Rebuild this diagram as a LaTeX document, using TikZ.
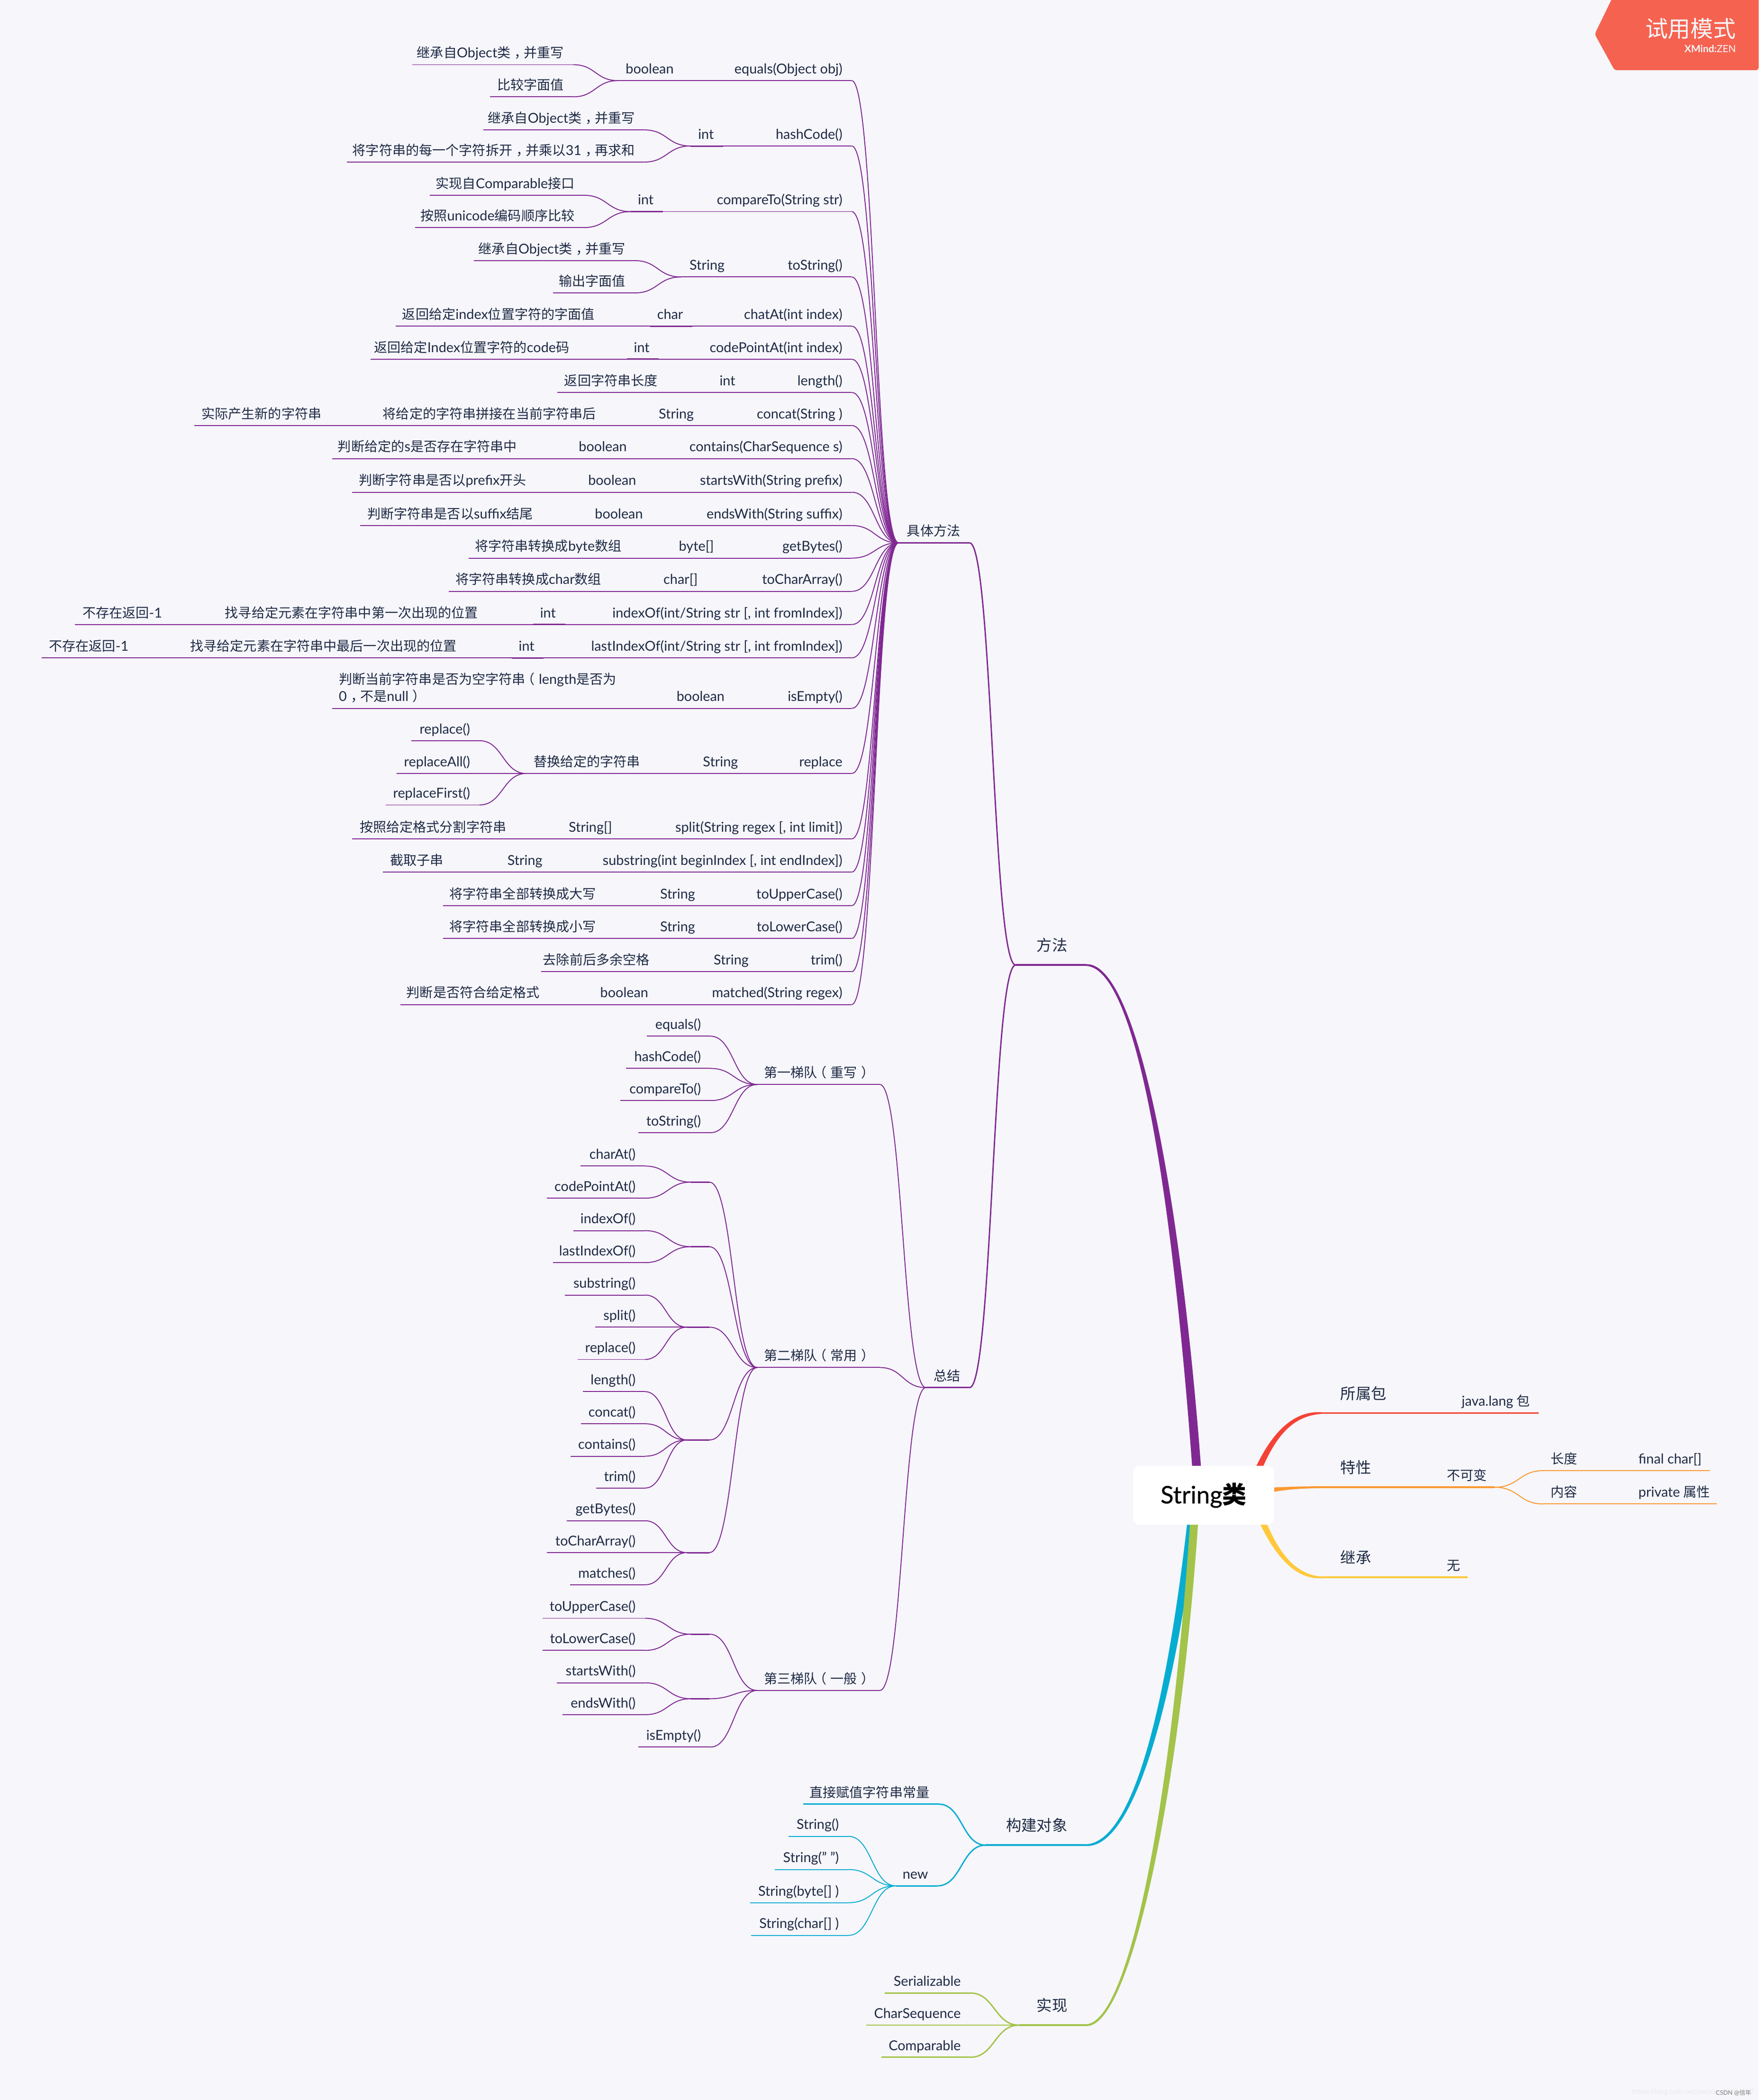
\documentclass[tikz,border=0pt]{standalone}
\usepackage{fontspec}
\setmainfont{Lato}[Scale=1.025]
\newfontfamily\cjk{Noto Sans CJK SC}
\newfontfamily\rootfont[FakeBold=0.5]{Lato}
\newcommand{\zh}[1]{{\cjk #1}}
% full-width marks sit in the middle of their cell
\newcommand{\zc}{\kern.3em，\kern-.3em}
\newcommand{\zl}{\kern-.3em（\kern.3em}
\newcommand{\zr}{\kern.3em）\kern-.3em}
\usetikzlibrary{calc}
\definecolor{bgcol}{RGB}{246, 246, 251}
\definecolor{ink}{RGB}{30, 42, 68}
\definecolor{colM}{RGB}{128, 40, 146}
\definecolor{colR}{RGB}{244, 67, 54}
\definecolor{colO}{RGB}{251, 152, 47}
\definecolor{colY}{RGB}{255, 201, 58}
\definecolor{colC}{RGB}{6, 173, 209}
\definecolor{colG}{RGB}{163, 195, 74}
\definecolor{colB}{RGB}{245, 99, 80}
\colorlet{cur}{colM}
\tikzset{
    pad/.store in=\padx,
    under/.style={append after command={(\tikzlastnode.south west) edge[draw=cur, line width=#1] (\tikzlastnode.south east)}},
    leaf/.style={inner xsep=0pt, outer sep=0pt, inner ysep=2.2pt, text depth=2pt, text=ink, pad=5.6pt,
        font=\fontsize{8}{10.4}\selectfont, under=0.55pt},
    mid/.style={leaf, under=0.8pt},
    main/.style={inner xsep=0pt, outer sep=0pt, inner ysep=6pt, text depth=2.4pt, text=ink, pad=11.2pt,
        font=\fontsize{9.2}{11}\selectfont, under=1.1pt},
    wire/.style={draw=cur, line width=0.55pt}
}
% topic going left: name, left end, right end, line height, text
\newcommand{\topic}[6][leaf]{%
    \pgfmathsetlengthmacro\tw{(#4-#3)*0.02826cm}%
    \node[#1, anchor=south east] (#2) at (#4,#5) {\makebox[\tw][r]{#6\hspace*{\padx}}};}
% topic going right
\newcommand{\topicr}[6][leaf]{%
    \pgfmathsetlengthmacro\tw{(#4-#3)*0.02826cm}%
    \node[#1, anchor=south west] (#2) at (#3,#5) {\makebox[\tw][l]{\hspace*{\padx}#6}};}
\newcommand{\link}[3][wire]{\draw[#1] let \p1=(#2.south west), \p2=(#3.south east) in
    (\p1) .. controls ({0.5*\x1+0.5*\x2},\y1) and ({0.5*\x1+0.5*\x2},\y2) .. (\p2);}
\newcommand{\linkr}[3][wire]{\draw[#1] let \p1=(#2.south east), \p2=(#3.south west) in
    (\p1) .. controls ({0.5*\x1+0.5*\x2},\y1) and ({0.5*\x1+0.5*\x2},\y2) .. (\p2);}
% tapered branch out of the centre
\newcommand{\branch}[7]{\fill[#1] ($(#2)+(0,{-0.25*#7})$) .. controls ($(#3)+(0,-#7)$) and ($(#4)+(#6,0)$) .. ($(#5)+(#6,0)$)
    -- ($(#5)+(-#6,0)$) .. controls ($(#4)+(-#6,0)$) and ($(#3)+(0,#7)$) .. ($(#2)+(0,{0.25*#7})$) -- cycle;}

\begin{document}
\begin{tikzpicture}[x=0.02826cm, y=-0.02826cm]
    \useasboundingbox (0,0) rectangle (1313.2,1567.9);
    \fill[bgcol] (0,0) rectangle (1313.2,1567.9);

    % trial badge
    \fill[colB, rounded corners=1.5pt] (1205.6,-5) -- (1190.8,25.5) -- (1205.6,52.4) -- (1313.2,52.4) -- (1313.2,-5) -- cycle;
    \node[anchor=east, inner sep=0pt, text=bgcol, font=\fontsize{13.6}{14}\selectfont] (badge) at (1296.5,21.5) {\zh{试用模式}};
    \node[anchor=east, inner sep=0pt, text=bgcol, font=\fontsize{5.8}{6}\selectfont] (brand) at (1296.5,36.5) {\textbf{XMind:}ZEN};

    % main topics on the left
    \topic[main]{met}{758.4}{811}{720.5}{\zh{方法}}
    \colorlet{cur}{colC}
    \topic[main]{obj}{736}{811}{1377.6}{\zh{构建对象}}
    \colorlet{cur}{colG}
    \topic[main]{imp}{761}{811}{1512}{\zh{实现}}
    \colorlet{cur}{colM}

    % concrete methods
    \topic[mid]{way}{671}{724}{405.3}{\zh{具体方法}}
    \link[wire, line width=0.8pt]{met}{way}
    \foreach \up/\nm/\xl/\xr/\yy/\txt in {%
        way/equals/544.5/636/60.2/{equals(Object obj)},%
        equals/equalsT/461.5/510/60.2/boolean,%
        equalsT/equalsA/308/428/48.3/{\zh{继承自}Object\zh{类\zc 并重写}},%
        equalsT/equalsB/366/428/72.3/{\zh{比较字面值}},%
        way/hash/573/636/109/hashCode(),%
        hash/hashT/515.6/540/109/int,%
        hashT/hashA/361/481/97/{\zh{继承自}Object\zh{类\zc 并重写}},%
        hashT/hashB/259/481/121/{\zh{将字符串的每一个字符拆开\zc 并乘以}31\zh{\zc 再求和}},%
        way/cmp/529/636/158/{compareTo(String str)},%
        cmp/cmpT/471/495/158/int,%
        cmpT/cmpA/320.8/436/145.8/{\zh{实现自}Comparable\zh{接口}},%
        cmpT/cmpB/310/436/169.9/{\zh{按照}unicode\zh{编码顺序比较}},%
        way/tostr/583/636/206.8/toString(),%
        tostr/tostrT/508.5/548/206.8/String,%
        tostrT/tostrA/354/474/194.6/{\zh{继承自}Object\zh{类\zc 并重写}},%
        tostrT/tostrB/413/474/218.7/{\zh{输出字面值}},%
        way/chat/552/636/243.5/{chatAt(int index)},%
        chat/chatT/485.4/517/243.5/char,%
        chatT/chatA/295.6/451/243.5/{\zh{返回给定}index\zh{位置字符的字面值}},%
        way/cpa/526/636/268.2/{codePointAt(int index)},%
        cpa/cpaT/468/492/268.2/int,%
        cpaT/cpaA/276.7/432/268.2/{\zh{返回给定}Index\zh{位置字符的}code\zh{码}},%
        way/len/591/636/293/length(),%
        len/lenT/532.5/556/293/int,%
        lenT/lenA/416/498/293/{\zh{返回字符串长度}},%
        way/con/560/636/317.7/{concat(String )},%
        con/conT/485.5/525/317.7/String,%
        conT/conA/282/452/317.7/{\zh{将给定的字符串拼接在当前字符串后}},%
        conA/conB/145/247/317.7/{\zh{实际产生新的字符串}},%
        way/has/510/636/342.4/{contains(CharSequence s)},%
        has/hasT/428/475/342.4/boolean,%
        hasT/hasA/248/393/342.4/{\zh{判断给定的}s\zh{是否存在字符串中}},%
        way/sta/517/636/367.5/{startsWith(String prefix)},%
        sta/staT/435/482/367.5/boolean,%
        staT/staA/263/400/367.5/{\zh{判断字符串是否以}prefix\zh{开头}},%
        way/end/522/636/392.4/{endsWith(String suffix)},%
        end/endT/440/487/392.4/boolean,%
        endT/endA/269/405/392.4/{\zh{判断字符串是否以}suffix\zh{结尾}},%
        way/byt/579/636/416.7/getBytes(),%
        byt/bytT/505/540/416.7/byte[],%
        bytT/bytA/350/471/416.7/{\zh{将字符串转换成}byte\zh{数组}},%
        way/arr/564/636/441.5/toCharArray(),%
        arr/arrT/490/528/441.5/char[],%
        arrT/arrA/335/456/441.5/{\zh{将字符串转换成}char\zh{数组}},%
        way/idx/456/636/466.3/{indexOf(int/String str [, int fromIndex])},%
        idx/idxT/398/422/466.3/int,%
        idxT/idxA/163/364/466.3/{\zh{找寻给定元素在字符串中第一次出现的位置}},%
        idxA/idxB/56/128/466.3/{\zh{不存在返回}-1},%
        way/lst/441/636/491.2/{lastIndexOf(int/String str [, int fromIndex])},%
        lst/lstT/382/406/491.2/int,%
        lstT/lstA/137/348/491.2/{\zh{找寻给定元素在字符串中最后一次出现的位置}},%
        lstA/lstB/31/103/491.2/{\zh{不存在返回}-1},%
        way/emp/583/636/528.9/isEmpty(),%
        emp/empT/500/548/528.9/boolean,%
        empT/empA/248/466/528.9/{\parbox[b]{5.82cm}{\raggedright\zh{判断当前字符串是否为空字符串\zl}length\zh{是否为}\\0\zh{\zc 不是}null\zh{\zr}}},%
        way/rep/593/636/577.5/replace,%
        rep/repT/518/558/577.5/String,%
        repT/repA/393/485/577.5/{\zh{替换给定的字符串}},%
        repA/repB/307/358/553/replace(),%
        repA/repC/296/358/577.5/replaceAll(),%
        repA/repD/288/358/601/replaceFirst(),%
        way/spl/499/636/626.3/{split(String regex [, int limit])},%
        spl/splT/418/464/626.3/String[],%
        splT/splA/263/385/626.3/{\zh{按照给定格式分割字符串}},%
        way/sub/446/636/651.1/{substring(int beginIndex [, int endIndex])},%
        sub/subT/372/412/651.1/String,%
        subT/subA/286/338/651.1/{\zh{截取子串}},%
        way/upc/560/636/676.2/toUpperCase(),%
        upc/upcT/486/526/676.2/String,%
        upcT/upcA/331/452/676.2/{\zh{将字符串全部转换成大写}},%
        way/loc/560/636/700.7/toLowerCase(),%
        loc/locT/486/526/700.7/String,%
        locT/locA/331/452/700.7/{\zh{将字符串全部转换成小写}},%
        way/tri/600/636/725.5/trim(),%
        tri/triT/526/566/725.5/String,%
        triT/triA/404/492/725.5/{\zh{去除前后多余空格}},%
        way/mat/526/636/750/{matched(String regex)},%
        mat/matT/444/491/750/boolean,%
        matT/matA/299/410/750/{\zh{判断是否符合给定格式}}%
    } {
        \topic{\nm}{\xl}{\xr}{\yy}{\txt}
        \link{\up}{\nm}
    }

    % summary
    \topic[mid]{sum}{691.4}{724}{1036}{\zh{总结}}
    \link[wire, line width=0.8pt]{met}{sum}
    \foreach \up/\nm/\xl/\xr/\yy/\txt in {%
        sum/one/565.5/657/809.7/{\zh{第一梯队\zl 重写\zr}},%
        sum/two/565.5/657/1021/{\zh{第二梯队\zl 常用\zr}},%
        sum/three/565.5/657/1262.1/{\zh{第三梯队\zl 一般\zr}},%
        one/oneA/483/530.4/773.6/equals(),%
        one/oneB/467.6/530.4/797.7/hashCode(),%
        one/oneC/463.3/530.4/821.7/compareTo(),%
        one/oneD/476.7/530.4/845.7/toString(),%
        two/grpA/516/529.7/882.6/{},%
        grpA/grpAa/433.3/481.6/870.6/charAt(),%
        grpA/grpAb/408.5/481.6/894.6/codePointAt(),%
        two/grpB/516/529.7/930.8/{},%
        grpB/grpBa/428.2/481.6/918.8/indexOf(),%
        grpB/grpBb/412.8/481.6/942.7/lastIndexOf(),%
        two/grpC/513/529.7/990.9/{},%
        grpC/grpCa/421.7/481.6/966.9/substring(),%
        grpC/grpCb/444.6/481.6/990.9/split(),%
        grpC/grpCc/431.2/481.6/1015/replace(),%
        two/grpD/513/529.7/1075.1/{},%
        grpD/grpDa/435.3/481.6/1039/length(),%
        grpD/grpDb/433.9/481.6/1063/concat(),%
        grpD/grpDc/426.2/481.6/1087.2/contains(),%
        grpD/grpDd/445.3/481.6/1111/trim(),%
        two/grpE/513/529.7/1159.2/{},%
        grpE/grpEa/423.3/481.6/1135.4/getBytes(),%
        grpE/grpEb/408.5/481.6/1159.2/toCharArray(),%
        grpE/grpEc/425.5/481.6/1183.2/matches(),%
        three/grpF/516/529.7/1220.1/{},%
        grpF/grpFa/405/481.6/1208.2/toUpperCase(),%
        grpF/grpFb/405/481.6/1232.2/toLowerCase(),%
        three/grpG/516/529.7/1268.3/{},%
        grpG/grpGa/415.6/481.6/1256.4/startsWith(),%
        grpG/grpGb/419.9/481.6/1280.2/endsWith(),%
        three/threeA/476.7/530.4/1304.4/isEmpty()%
    } {
        \topic{\nm}{\xl}{\xr}{\yy}{\txt}
        \link{\up}{\nm}
    }
    % heavier stretches
    \foreach \nm in {hashT,cmpT,chatT,cpaT,idxT,lstT,grpA,grpB,grpC,grpD,grpE,grpF,grpG}
        \draw[wire, line width=0.85pt] (\nm.south west) -- (\nm.south east);

    % building objects
    \colorlet{cur}{colC}
    \topic[mid]{lit}{599.8}{701}{1347}{\zh{直接赋值字符串常量}}
    \topic[mid]{new}{669}{700}{1408}{new}
    \link[wire, line width=0.8pt]{obj}{lit}
    \link[wire, line width=0.8pt]{obj}{new}
    \foreach \nm/\xl/\yy/\txt in {strA/588.8/1371/String(), strB/578.6/1395.8/{String(" ")},
        strC/560.3/1420.6/{String(byte[] )}, strD/561/1445/{String(char[] )}} {
        \topic{\nm}{\xl}{633.4}{\yy}{\txt}
        \link{new}{\nm}
    }

    % interfaces
    \colorlet{cur}{colG}
    \foreach \nm/\xl/\yy/\txt in {serA/660.6/1488/Serializable, serB/646.8/1512/CharSequence, serC/658.1/1536/Comparable} {
        \topic[mid]{\nm}{\xl}{724.4}{\yy}{\txt}
        \link[wire, line width=0.8pt]{imp}{\nm}
    }

    % right side
    \colorlet{cur}{colR}
    \topicr[main]{pkg}{987}{1050}{1055}{\zh{所属包}}
    \topicr[mid, under=1.1pt, pad=4.4pt]{pkgA}{1086}{1149}{1055}{java.lang \zh{包}}
    \linkr[wire, line width=1.1pt]{pkg}{pkgA}
    \colorlet{cur}{colO}
    \topicr[main]{fea}{987}{1043}{1110.4}{\zh{特性}}
    \topicr[mid, under=1.1pt, pad=4.4pt]{feaA}{1075}{1116}{1110.4}{\zh{不可变}}
    \linkr[wire, line width=1.1pt]{fea}{feaA}
    \topicr[leaf, pad=4.4pt]{feaB}{1152.5}{1182.6}{1098}{\zh{长度}}
    \topicr[leaf, pad=4.4pt]{feaC}{1218}{1276.5}{1098}{final char[]}
    \topicr[leaf, pad=4.4pt]{feaD}{1152.5}{1182.6}{1122.9}{\zh{内容}}
    \topicr[leaf, pad=4.4pt]{feaE}{1218}{1282}{1122.9}{private \zh{属性}}
    \linkr{feaA}{feaB}
    \linkr{feaB}{feaC}
    \linkr{feaA}{feaD}
    \linkr{feaD}{feaE}
    \colorlet{cur}{colY}
    \topicr[main]{ext}{987}{1043}{1177.7}{\zh{继承}}
    \topicr[mid, under=1.1pt, pad=4.4pt]{extA}{1075}{1096}{1177.7}{\zh{无}}
    \linkr[wire, line width=1.1pt]{ext}{extA}

    % thick branches
    \branch{colM}{met.south east}{850,720.5}{880,900}{895,1116}{3.3}{2.5}
    \branch{colC}{obj.south east}{850,1377.6}{878,1250}{892,1116}{3.2}{-2.5}
    \branch{colG}{imp.south east}{845,1512}{880,1330}{893,1116}{3}{-2.5}
    \branch{colR}{pkg.south west}{960,1055}{945,1080}{932,1116}{2.8}{-2.4}
    \fill[colO] ($(fea.south west)+(0,-0.7)$) .. controls (965,1109.7) and (955,1110.5) .. (945,1110.8)
        -- (945,1114.8) .. controls (955,1113.2) and (965,1111.1) .. ($(fea.south west)+(0,0.7)$) -- cycle;
    \branch{colY}{ext.south west}{960,1177.7}{945,1145}{935,1116}{2.8}{2.4}

    % centre
    \node[fill=white, rounded corners=4pt, minimum width=105.5*0.02826cm, minimum height=44*0.02826cm,
        inner sep=0pt, text=black, font=\fontsize{14.5}{16}\selectfont] (root) at (898.7,1116.4)
        {{\rootfont String}{\cjk\bfseries 类}};

    % site marks in the corner
    \node[anchor=east, inner sep=0pt, text=black!8, font=\fontsize{4.1}{5}\selectfont] (url) at (1310,1562) {https://blog.csdn.net/weixin\_43494927};
    \node[anchor=east, inner sep=0pt, text=black!50, font=\fontsize{3.6}{4}\selectfont] (mark) at (1308,1562.5) {CSDN @\zh{信年}};
\end{tikzpicture}
\end{document}
